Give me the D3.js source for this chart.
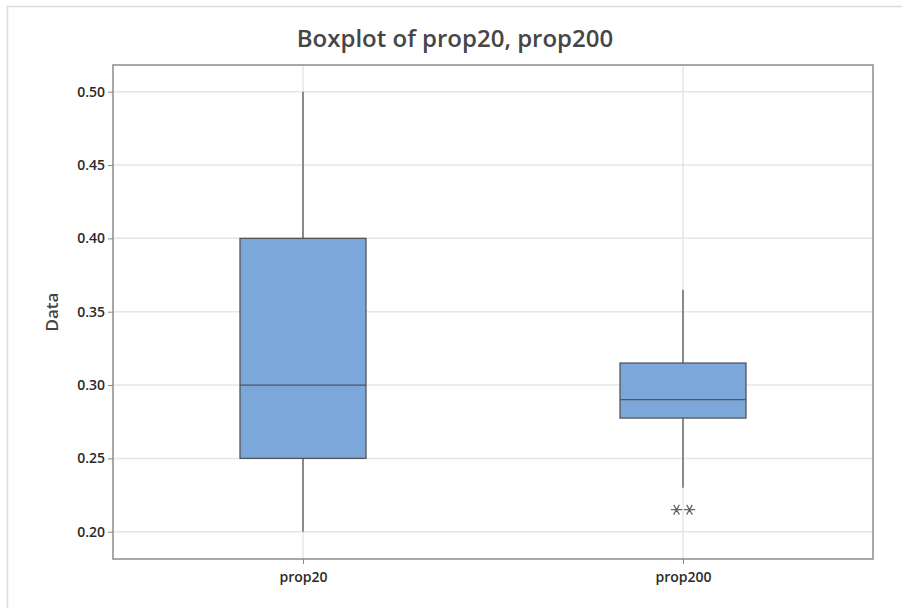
<!DOCTYPE html>
<html>
<head>
<meta charset="utf-8">
<script src="https://cdn.jsdelivr.net/npm/d3@7"></script>
<style>
  body { margin: 0; background: #fff; }
  svg text { font-family: "Open Sans", "Noto Sans", sans-serif; }
</style>
</head>
<body>
<div id="chart"></div>
<script>
// values
const categories = ["prop20", "prop200"];
const whiskerLow = [0.20, 0.23];
const q1 = [0.25, 0.2775];
const median = [0.30, 0.29];
const q3 = [0.40, 0.315];
const whiskerHigh = [0.50, 0.365];
const outliers = [[], [0.215, 0.215]];
const yTicks = [0.20, 0.25, 0.30, 0.35, 0.40, 0.45, 0.50];

const boxes = categories.map((c, i) => ({
  name: c,
  lo: whiskerLow[i], q1: q1[i], med: median[i], q3: q3[i], hi: whiskerHigh[i],
  out: outliers[i]
}));

const width = 902, height = 608;
const margin = { top: 65, right: 29, bottom: 49, left: 113 };
const plotW = width - margin.left - margin.right;
const plotH = height - margin.top - margin.bottom;

const svg = d3.select('#chart').append('svg')
  .attr('width', width).attr('height', height);

// outer graph frame
svg.append('rect').attr('x', 7.5).attr('y', 6.5)
  .attr('width', 910).attr('height', 620)
  .attr('fill', 'none').attr('stroke', '#dcdcdc').attr('stroke-width', 1.5);

svg.append('text').attr('x', 455).attr('y', 47)
  .attr('text-anchor', 'middle').style('font-size', '24px')
  .style('font-weight', 600).style('fill', '#464646')
  .text('Boxplot of prop20, prop200');

const g = svg.append('g').attr('transform', `translate(${margin.left},${margin.top})`);

const y = d3.scaleLinear().domain([0.1814, 0.5182]).range([plotH, 0]);
const x = d3.scalePoint().domain(categories).range([0, plotW]).padding(0.5);
const boxW = 126;

// grid
g.append('g').selectAll('line').data(yTicks).join('line')
  .attr('x1', 0).attr('x2', plotW)
  .attr('y1', d => y(d)).attr('y2', d => y(d))
  .attr('stroke', '#e6e6e6').attr('stroke-width', 1.5);
g.append('g').selectAll('line').data(categories).join('line')
  .attr('x1', d => x(d)).attr('x2', d => x(d))
  .attr('y1', 0).attr('y2', plotH)
  .attr('stroke', '#e6e6e6').attr('stroke-width', 1.5);

// axes
const yAxis = d3.axisLeft(y).tickValues(yTicks).tickFormat(d3.format('.2f')).tickSize(5).tickPadding(3);
const yAxisDraw = g.append('g').call(yAxis);
const xAxis = d3.axisBottom(x).tickSize(5).tickPadding(8);
const xAxisDraw = g.append('g').attr('transform', `translate(0,${plotH})`).call(xAxis);
[yAxisDraw, xAxisDraw].forEach(a => {
  a.select('.domain').remove();
  a.selectAll('line').attr('stroke', '#888');
  a.selectAll('text').style('font-size', '14px').style('font-weight', 600).style('fill', '#2a2a2a');
});

svg.append('text')
  .attr('transform', `translate(58,${margin.top + plotH / 2}) rotate(-90)`)
  .attr('text-anchor', 'middle').style('font-size', '17px').style('font-weight', 600)
  .style('fill', '#444').text('Data');

// boxes
const bg = g.append('g').selectAll('g').data(boxes).join('g');
bg.append('line')
  .attr('x1', d => x(d.name)).attr('x2', d => x(d.name))
  .attr('y1', d => y(d.hi)).attr('y2', d => y(d.q3))
  .attr('stroke', '#555').attr('stroke-width', 1.3);
bg.append('line')
  .attr('x1', d => x(d.name)).attr('x2', d => x(d.name))
  .attr('y1', d => y(d.q1)).attr('y2', d => y(d.lo))
  .attr('stroke', '#555').attr('stroke-width', 1.3);
bg.append('rect')
  .attr('x', d => x(d.name) - boxW / 2).attr('width', boxW)
  .attr('y', d => y(d.q3)).attr('height', d => y(d.q1) - y(d.q3))
  .attr('fill', '#7ba7da').attr('stroke', '#555').attr('stroke-width', 1.3);
bg.append('line')
  .attr('x1', d => x(d.name) - boxW / 2).attr('x2', d => x(d.name) + boxW / 2)
  .attr('y1', d => y(d.med)).attr('y2', d => y(d.med))
  .attr('stroke', '#555').attr('stroke-width', 1.3);

// outliers as asterisks, tied values spread sideways
const star = d3.symbol().type(d3.symbolAsterisk).size(90);
bg.selectAll('path.out').data(d => d.out.map((v, i) => ({ name: d.name, v, i, n: d.out.length })))
  .join('path').attr('class', 'out')
  .attr('transform', d => `translate(${x(d.name) + (d.i - (d.n - 1) / 2) * 13},${y(d.v)}) rotate(90)`)
  .attr('d', star).attr('fill', 'none').attr('stroke', '#666').attr('stroke-width', 1.3);

// plot frame
g.append('rect').attr('width', plotW).attr('height', plotH)
  .attr('fill', 'none').attr('stroke', '#8c8c8c').attr('stroke-width', 1.5);
</script>
</body>
</html>
